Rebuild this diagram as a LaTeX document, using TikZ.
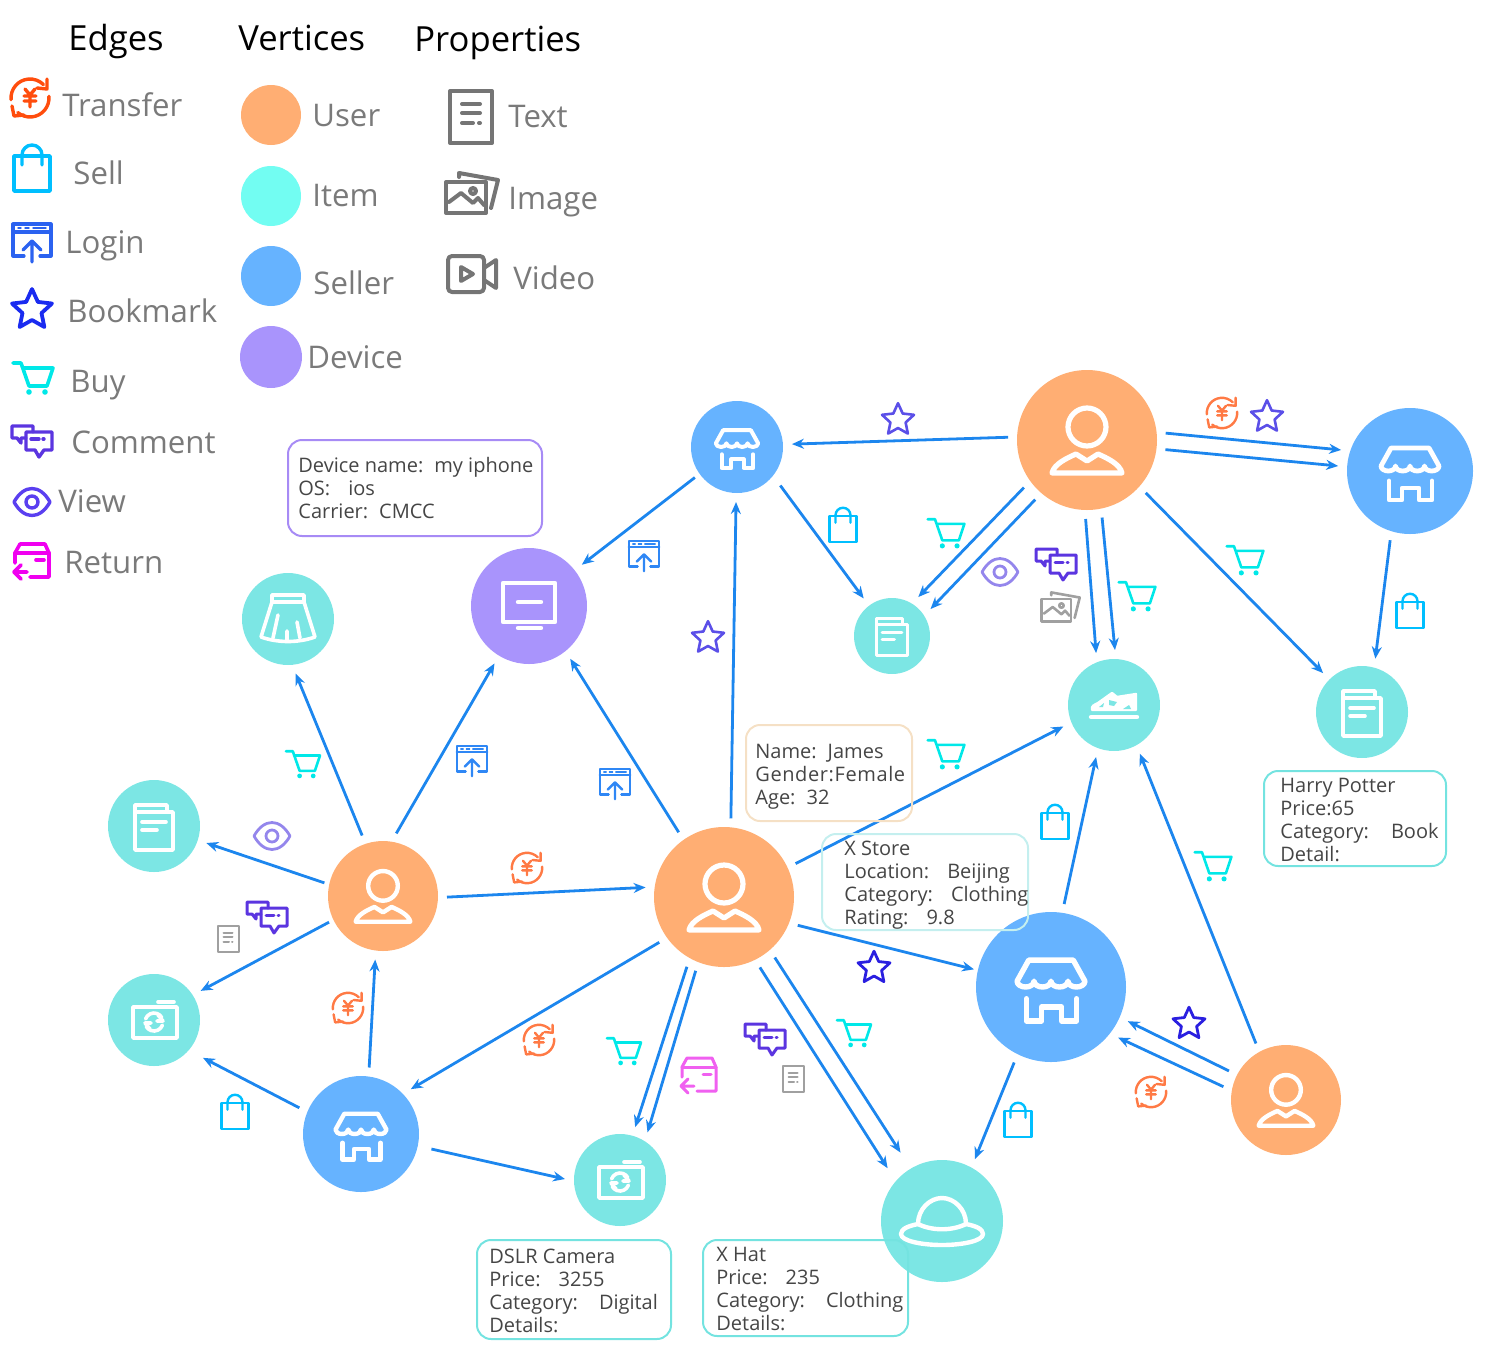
\documentclass[tikz,border=0pt]{standalone}
\usepackage{fontspec}
\setmainfont{Open Sans}
\usetikzlibrary{arrows.meta}
\definecolor{cUser}{HTML}{FFAE73}
\definecolor{cItem}{HTML}{7CE6E4}
\definecolor{cItemKey}{HTML}{72FDF2}
\definecolor{cSeller}{HTML}{66B3FF}
\definecolor{cDevice}{HTML}{A994FC}
\definecolor{cEdge}{HTML}{1C86EE}
\definecolor{cTransfer}{HTML}{FF7A45}
\definecolor{cTransferKey}{HTML}{FF4D0D}
\definecolor{cBag}{HTML}{00BFFF}
\definecolor{cLogin}{HTML}{2B62F0}
\definecolor{cLoginSmall}{HTML}{2F87F5}
\definecolor{cStar}{HTML}{1A2BF0}
\definecolor{cStarSmall}{HTML}{5B4FE8}
\definecolor{cStarDark}{HTML}{2A1FE0}
\definecolor{cCart}{HTML}{00E8E8}
\definecolor{cComment}{HTML}{5B35E0}
\definecolor{cView}{HTML}{5A3FF0}
\definecolor{cViewSmall}{HTML}{9486EC}
\definecolor{cReturn}{HTML}{F000F0}
\definecolor{cReturnSmall}{HTML}{F060F0}
\definecolor{cProp}{HTML}{757575}
\definecolor{cPropSmall}{HTML}{A0A0A0}
\definecolor{cLabel}{HTML}{7A7A7A}
\definecolor{cInfo}{HTML}{454545}
\definecolor{cBoxDevice}{HTML}{A78BF5}
\definecolor{cBoxUser}{HTML}{F5E0C5}
\definecolor{cBoxStore}{HTML}{C4EFEF}
\definecolor{cBoxItem}{HTML}{74E3E0}
\newcommand{\kv}{:\hspace{.9em}}
\tikzset{
  vert/.style 2 args={circle, fill=#1, minimum size=#2, inner sep=0pt, outer sep=4.5pt},
  edge/.style={cEdge, line width=1.4pt, -{Stealth[length=6pt,width=5pt]}},
  ico/.style n args={3}{color=#1, scale=#2, line width=#3, line join=round, line cap=round},
  head/.style={anchor=base west, inner sep=0pt, font=\fontsize{17.3}{20}\selectfont},
  lab/.style={anchor=base west, inner sep=0pt, text=cLabel, font=\fontsize{15.6}{18}\selectfont},
  infobox/.style n args={3}{draw=#1, line width=1pt, rounded corners=7pt, anchor=north west, inner sep=0pt, outer sep=0pt, minimum width=#2, minimum height=#3},
  infotext/.style={anchor=west, inner sep=0pt, align=left, text=cInfo, font=\fontsize{10}{11.5}\selectfont},
  transfericon/.pic={
    \draw (175:19) arc (175:315:19);
    \draw (17,-19) -- (17,-9) -- (7,-10);
    \draw (-5:19) arc (-5:130:19);
    \draw (-18,8) -- (-16,18) -- (-6,17);
    \draw (-5,-9) -- (0,-3) -- (5,-9) (0,-3) -- (0,9) (-6,-2) -- (6,-2) (-6,3) -- (6,3);
  },
  bagicon/.pic={
    \draw (-18,-12) rectangle (18,23);
    \draw (-10,-3) -- (-10,-13) arc (180:360:10) -- (10,-3);
  },
  loginicon/.pic={
    \draw (-8,13) -- (-19,13) -- (-19,-19) -- (19,-19) -- (19,13) -- (8,13);
    \draw (-19,-11) -- (19,-11);
    \draw[line width=.7pt] (-14,-15) -- (-11,-15) (-7,-15) -- (-3,-15) (1,-15) -- (14,-15);
    \draw (0,19) -- (0,-2) (-9,7) -- (0,-2) -- (9,7);
  },
  staricon/.pic={
    \draw (270:21) -- (306:10) -- (342:21) -- (18:10) -- (54:21) -- (90:10) -- (126:21) -- (162:10) -- (198:21) -- (234:10) -- cycle;
  },
  carticon/.pic={
    \draw (-20,-15) -- (-12,-15) -- (-4,8) -- (14,8) -- (20,-10) -- (-10,-10);
    \fill (-4,14) circle (2.8) (12,14) circle (2.8);
  },
  commenticon/.pic={
    \draw (1,-10) -- (1,-16) -- (-20,-16) -- (-20,-4) -- (-15,-4) -- (-11,1) -- (-11,-4) -- (-6,-4);
    \draw (-6,-10) -- (20,-10) -- (20,8) -- (12,8) -- (7,15) -- (3,8) -- (-6,8) -- cycle;
    \draw (-1,-3) -- (7,-3) (11,-3) -- (12,-3);
  },
  viewicon/.pic={
    \draw (-18,0) .. controls (-8,-18) and (8,-18) .. (18,0) .. controls (8,18) and (-8,18) .. (-18,0) -- cycle;
    \draw (0,0) circle (6);
  },
  returnicon/.pic={
    \draw (-17,2) -- (-17,-8) -- (-12,-17) -- (13,-17) -- (17,-8) -- (17,16) -- (-2,16);
    \draw (-17,-8) -- (17,-8) (4,-1) -- (12,-1);
    \draw (-5,11) -- (-18,11) (-11,4) -- (-18,11) -- (-11,18);
  },
  texticon/.pic={
    \draw (-21,-26) rectangle (21,26);
    \draw (-9,-13) -- (9,-13) (-9,-4) -- (9,-4) (-9,6) -- (2,6) (8,6) -- (9,6);
  },
  imageicon/.pic={
    \draw (-25,-11) rectangle (15,20);
    \draw (-12,-16) -- (-12,-20) -- (27,-13) -- (20,15);
    \draw (-22,9) -- (-10,0) -- (2,10) -- (7,5) -- (13,12);
    \draw (2,-2) circle (3);
  },
  videoicon/.pic={
    \draw[rounded corners=2pt] (-23,-18) rectangle (13,18);
    \draw (13,-6) -- (25,-14) -- (25,14) -- (13,6);
    \draw (-10,-7) -- (2,0) -- (-10,7) -- cycle;
  },
  personglyph/.pic={
    \draw (0,-13) circle (19);
    \draw (-35,33) .. controls (-33,24) and (-20,18) .. (-11,14) -- (0,21) -- (11,14) .. controls (20,18) and (33,24) .. (35,33) -- cycle;
  },
  storeglyph/.pic={
    \draw (-19,-23) -- (19,-23) -- (29,-5) arc [start angle=0, end angle=180, x radius=7.25, y radius=5] arc [start angle=0, end angle=180, x radius=7.25, y radius=5] arc [start angle=0, end angle=180, x radius=7.25, y radius=5] arc [start angle=0, end angle=180, x radius=7.25, y radius=5] -- cycle;
    \draw (-21,10) -- (-21,29) -- (-8,29) -- (-8,17) -- (9,17) -- (9,29) -- (22,29) -- (22,10);
  },
  docglyph/.pic={
    \draw (-19,-14) rectangle (19,24);
    \draw (-19,-14) -- (-19,-21) -- (13,-21) -- (13,-14);
    \draw (-12,-4) -- (12,-4) (-12,4) -- (3,4);
  },
  skirtglyph/.pic={
    \draw (-16,-24) rectangle (16,-17);
    \draw (-16,-17) -- (-27,18) .. controls (-10,24) and (10,24) .. (27,18) -- (16,-17);
    \draw (-10,-4) -- (-15,19) (9,3) -- (12,19) (-1,12) -- (-1,21);
  },
  monitorglyph/.pic={
    \draw (-26,-23) rectangle (26,16);
    \draw (-11,-4) -- (12,-4) (-11,22) -- (12,22);
  },
  shoeglyph/.pic={
    \filldraw[line width=1.2pt] (-22,5) .. controls (-23,1) and (-20,0) .. (-16,-2) -- (-2,-12) -- (3,-8) -- (22,-11) -- (22,5) -- cycle;
    \draw (-23,12) -- (23,12);
    \fill[cItem] (-15,2) -- (-10,-2) -- (-11,2) -- cycle;
    \fill[cItem] (-5,-5) -- (3,-3) -- (0,1) -- (-5,0) -- cycle;
    \fill[cItem] (9,4) -- (15,0) -- (17,4) -- cycle;
  },
  cameraglyph/.pic={
    \draw (-21,-13) rectangle (23,18);
    \draw (4,-18) -- (20,-18);
    \draw (0,2) ++(200:9) arc (200:330:9);
    \draw (0,2) ++(20:9) arc (20:150:9);
    \draw (4,-5) -- (9,1) -- (3,1) (-4,9) -- (-9,3) -- (-3,3);
  },
  hatglyph/.pic={
    \draw (-24,3) .. controls (-34,5) and (-41,8) .. (-41,13) .. controls (-41,20) and (-20,24) .. (0,24) .. controls (20,24) and (41,20) .. (41,13) .. controls (41,8) and (34,5) .. (24,3);
    \draw (-24,3) .. controls (-24,-12) and (-12,-23) .. (0,-23) .. controls (12,-23) and (24,-12) .. (24,3);
    \draw (-24,3) .. controls (-10,10) and (10,10) .. (24,3);
  }
}
\begin{document}
\begin{tikzpicture}[x=.5pt, y=-.5pt]
  \useasboundingbox (0,0) rectangle (1500,1366);

  \node[head] (hEdges) at (68,50) {Edges};
  \node[head] (hVert) at (238,50) {Vertices};
  \node[head] (hProp) at (414,51) {Properties};

  \node[lab] (lTransfer) at (62,116) {Transfer};
  \node[lab] (lSell) at (73,184) {Sell};
  \node[lab] (lLogin) at (65,253) {Login};
  \node[lab] (lBook) at (67,322) {Bookmark};
  \node[lab] (lBuy) at (70,392) {Buy};
  \node[lab] (lComment) at (71,453) {Comment};
  \node[lab] (lView) at (58,512) {View};
  \node[lab] (lReturn) at (64,573) {Return};
  \node[lab] (lUser) at (312,126) {User};
  \node[lab] (lItem) at (312,206) {Item};
  \node[lab] (lSeller) at (313,294) {Seller};
  \node[lab] (lDevice) at (307,368) {Device};
  \node[lab] (lText) at (508,127) {Text};
  \node[lab] (lImage) at (508,209) {Image};
  \node[lab] (lVideo) at (513,289) {Video};

  \node[vert={cUser}{30pt}] (kUser) at (271,115) {};
  \node[vert={cItemKey}{30pt}] (kItem) at (271,196) {};
  \node[vert={cSeller}{30pt}] (kSeller) at (271,276) {};
  \node[vert={cDevice}{31pt}] (kDevice) at (271,357) {};

  \pic [ico={cTransferKey}{1}{1.7pt}] at (30,98) {transfericon};
  \pic [ico={cBag}{1}{1.7pt}] at (32,168) {bagicon};
  \pic [ico={cLogin}{1}{1.6pt}] at (32,243) {loginicon};
  \pic [ico={cStar}{1}{1.9pt}] at (32,310) {staricon};
  \pic [ico={cCart}{1}{1.8pt}] at (33,378) {carticon};
  \pic [ico={cComment}{1}{1.7pt}] at (32,442) {commenticon};
  \pic [ico={cView}{1}{1.7pt}] at (32,502) {viewicon};
  \pic [ico={cReturn}{1}{1.8pt}] at (32,561) {returnicon};
  \pic [ico={cProp}{1}{2pt}] at (471,117) {texticon};
  \pic [ico={cProp}{1}{2pt}] at (471,193) {imageicon};
  \pic [ico={cProp}{1}{2pt}] at (471,274) {videoicon};

  \node[vert={cUser}{70pt}] (u1) at (1087,440) {};
  \node[vert={cUser}{70pt}] (u3) at (724,897) {};
  \node[vert={cUser}{55pt}] (u2) at (383,896) {};
  \node[vert={cUser}{55pt}] (u4) at (1286,1100) {};
  \node[vert={cSeller}{46pt}] (s1) at (737,447) {};
  \node[vert={cSeller}{63pt}] (s2) at (1410,471) {};
  \node[vert={cSeller}{58pt}] (s3) at (361,1134) {};
  \node[vert={cSeller}{75pt}] (s4) at (1051,987) {};
  \node[vert={cDevice}{58pt}] (d) at (529,606) {};
  \node[vert={cItem}{46pt}] (skirt) at (288,619) {};
  \node[vert={cItem}{38pt}] (doca) at (892,636) {};
  \node[vert={cItem}{46pt}] (shoe) at (1114,705) {};
  \node[vert={cItem}{46pt}] (docb) at (1362,712) {};
  \node[vert={cItem}{46pt}] (docc) at (154,826) {};
  \node[vert={cItem}{46pt}] (cama) at (154,1020) {};
  \node[vert={cItem}{46pt}] (camb) at (620,1180) {};
  \node[vert={cItem}{61pt}] (hat) at (942,1221) {};

  \draw [edge] (u1.178) to (s1.3);
  \draw [edge] (u1.5) to (s2.163);
  \draw [edge] (u1.-7) to (s2.176);
  \draw [edge] (u1.217) to (doca.56);
  \draw [edge] (u1.229) to (doca.35);
  \draw [edge] (u1.269) to (shoe.109);
  \draw [edge] (u1.281) to (shoe.89);
  \draw [edge] (u1.-42) to (docb.135);
  \draw [edge] (s2.254) to (docb.76);
  \draw [edge, shorten <=-1.5pt] (s1.216) to (d.38);
  \draw [edge, shorten <=1.5pt] (s1.-41) to (doca.127);
  \draw [edge] (u3.85) to (s1.269);
  \draw [edge] (u3.125) to (d.-52);
  \draw [edge] (u3.25) to (shoe.203);
  \draw [edge, shorten >=-2.5pt] (u3.-21) to (s4.167);
  \draw [edge] (u3.215) to (s3.42);
  \draw [edge] (u3.242) to (camb.74);
  \draw [edge] (u3.249) to (camb.60);
  \draw [edge, shorten >=3pt] (u3.-63) to (hat.137);
  \draw [edge, shorten >=5pt] (u3.-50) to (hat.121);
  \draw [edge] (u2.-1) to (u3.173);
  \draw [edge] (u2.109) to (skirt.-82);
  \draw [edge] (u2.78) to (d.239);
  \draw [edge, shorten <=-2pt] (u2.167) to (docc.-18);
  \draw [edge, shorten <=-2pt] (u2.206) to (cama.32);
  \draw [edge] (s3.83) to (u2.263);
  \draw [edge, shorten >=3.5pt] (s3.157) to (cama.-39);
  \draw [edge, shorten <=2.5pt] (s3.-12) to (camb.179);
  \draw [edge] (s4.81) to (shoe.251);
  \draw [edge] (s4.244) to (hat.62);
  \draw [edge] (u4.153) to (s4.-24);
  \draw [edge] (u4.168) to (s4.-37);
  \draw [edge] (u4.118) to (shoe.-62);

  \pic [ico={white}{1}{2.6pt}] at (u1) {personglyph};
  \pic [ico={white}{1}{2.6pt}] at (u3) {personglyph};
  \pic [ico={white}{.78}{2.2pt}] at (u2) {personglyph};
  \pic [ico={white}{.78}{2.2pt}] at (u4) {personglyph};
  \pic [ico={white}{.73}{2pt}] at (s1) {storeglyph};
  \pic [ico={white}{1}{2.4pt}] at (s2) {storeglyph};
  \pic [ico={white}{.88}{2.2pt}] at (s3) {storeglyph};
  \pic [ico={white}{1.17}{2.7pt}] at (s4) {storeglyph};
  \pic [ico={white}{1}{2.2pt}] at (d) {monitorglyph};
  \pic [ico={white}{1}{1.8pt}] at (skirt) {skirtglyph};
  \pic [ico={white}{.83}{1.5pt}] at (doca) {docglyph};
  \pic [ico={white}{1}{1.8pt}] at (docb) {docglyph};
  \pic [ico={white}{1}{1.8pt}] at (docc) {docglyph};
  \pic [ico={white}{1}{2.2pt}] at (shoe) {shoeglyph};
  \pic [ico={white}{1}{1.8pt}] at (cama) {cameraglyph};
  \pic [ico={white}{1}{1.8pt}] at (camb) {cameraglyph};
  \pic [ico={white}{1}{2.2pt}] at (hat) {hatglyph};

  \pic [ico={cTransfer}{.8}{1.2pt}] at (1222,413) {transfericon};
  \pic [ico={cTransfer}{.8}{1.2pt}] at (527,868) {transfericon};
  \pic [ico={cTransfer}{.8}{1.2pt}] at (348,1008) {transfericon};
  \pic [ico={cTransfer}{.8}{1.2pt}] at (539,1040) {transfericon};
  \pic [ico={cTransfer}{.8}{1.2pt}] at (1151,1092) {transfericon};
  \pic [ico={cStarSmall}{.8}{1.3pt}] at (898,420) {staricon};
  \pic [ico={cStarSmall}{.8}{1.3pt}] at (1267,417) {staricon};
  \pic [ico={cStarSmall}{.8}{1.3pt}] at (708,638) {staricon};
  \pic [ico={cStarDark}{.8}{1.4pt}] at (874,968) {staricon};
  \pic [ico={cStarDark}{.8}{1.4pt}] at (1189,1024) {staricon};
  \pic [ico={cBag}{.75}{1.2pt}] at (843,525) {bagicon};
  \pic [ico={cBag}{.75}{1.2pt}] at (1410,611) {bagicon};
  \pic [ico={cBag}{.75}{1.2pt}] at (1055,822) {bagicon};
  \pic [ico={cBag}{.75}{1.2pt}] at (1018,1120) {bagicon};
  \pic [ico={cBag}{.75}{1.2pt}] at (235,1112) {bagicon};
  \pic [ico={cLoginSmall}{.8}{1.2pt}] at (644,556) {loginicon};
  \pic [ico={cLoginSmall}{.8}{1.2pt}] at (472,761) {loginicon};
  \pic [ico={cLoginSmall}{.8}{1.2pt}] at (615,784) {loginicon};
  \pic [ico={cCart}{.92}{1.3pt}] at (946,533) {carticon};
  \pic [ico={cCart}{.92}{1.3pt}] at (1245,560) {carticon};
  \pic [ico={cCart}{.92}{1.3pt}] at (1137,596) {carticon};
  \pic [ico={cCart}{.92}{1.3pt}] at (946,754) {carticon};
  \pic [ico={cCart}{.92}{1.3pt}] at (1213,866) {carticon};
  \pic [ico={cCart}{.85}{1.3pt}] at (303,764) {carticon};
  \pic [ico={cCart}{.85}{1.3pt}] at (624,1051) {carticon};
  \pic [ico={cCart}{.85}{1.3pt}] at (854,1033) {carticon};
  \pic [ico={cComment}{1}{1.5pt}] at (1056,565) {commenticon};
  \pic [ico={cComment}{1}{1.5pt}] at (267,918) {commenticon};
  \pic [ico={cComment}{1}{1.5pt}] at (765,1040) {commenticon};
  \pic [ico={cViewSmall}{1}{1.4pt}] at (1000,572) {viewicon};
  \pic [ico={cViewSmall}{1}{1.4pt}] at (272,836) {viewicon};
  \pic [ico={cReturnSmall}{1}{1.5pt}] at (699,1075) {returnicon};
  \pic [ico={cPropSmall}{.5}{1pt}] at (228,939) {texticon};
  \pic [ico={cPropSmall}{.5}{1pt}] at (793,1079) {texticon};
  \pic [ico={cPropSmall}{.73}{1.3pt}] at (1060,607) {imageicon};

  \node[infobox={cBoxDevice}{127pt}{48pt}] (bDevice) at (288,440) {};
  \node[infotext] (tDevice) at (298,488) {Device name:\hspace{.55em}my iphone\\OS\kv ios\\Carrier:\hspace{.55em}CMCC};
  \node[infobox={cBoxUser}{83pt}{48pt}] (bUser) at (746,725) {};
  \node[infotext] (tUser) at (755,777) {Name:\hspace{.55em}James\\{\addfontfeatures{LetterSpace=3}Gender:Female}\\Age:\hspace{.55em}32};
  \node[infobox={cBoxStore}{103pt}{48pt}] (bStore) at (822,834) {};
  \node[infotext] (tStore) at (844,885) {X Store\\Location\kv Beijing\\Category\kv Clothing\\Rating\kv 9.8};
  \node[infobox={cBoxItem}{91pt}{47.5pt}] (bBook) at (1264,771) {};
  \node[infotext] (tBook) at (1280,820) {Harry Potter\\Price:65\\Category:\hspace{1.1em}Book\\Detail:};
  \node[infobox={cBoxItem}{97pt}{49.5pt}] (bCam) at (477,1240) {};
  \node[infotext] (tCam) at (489,1291) {DSLR Camera\\Price\kv 3255\\Category:\hspace{1.05em}Digital\\Details:};
  \node[infobox={cBoxItem}{102.5pt}{48pt}] (bHat) at (703,1240) {};
  \node[infotext] (tHat) at (716,1289) {X Hat\\Price\kv 235\\Category:\hspace{1.05em}Clothing\\Details:};
\end{tikzpicture}
\end{document}
